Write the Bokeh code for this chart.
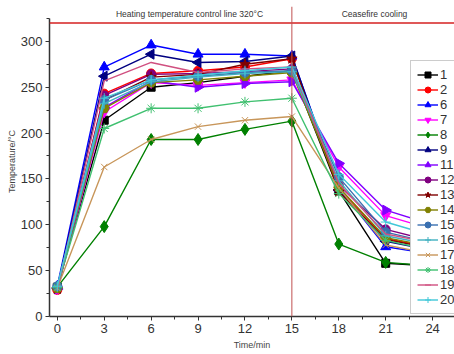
import math
from bokeh.plotting import figure
from bokeh.models import Range1d, FixedTicker, Span, Label, Legend, LegendItem
from bokeh.embed import file_html
from bokeh.resources import INLINE

# ---- data ----
time_min = [0, 3, 6, 9, 12, 15, 18, 21, 24]
series_names = ["1", "2", "6", "7", "8", "9", "11", "12", "13", "14", "15", "16", "17", "18", "19", "20"]
t1 = [32, 214, 250, 255, 262, 268, 137, 58, 55]
t2 = [29, 243, 265, 268, 272, 281, 140, 85, 75]
t6 = [33, 272, 296, 286, 286, 284, 140, 76, 68]
t7 = [30, 223, 255, 252, 255, 258, 163, 110, 95]
t8 = [32, 98, 193, 193, 204, 213, 79, 59, 55]
t9 = [31, 262, 286, 277, 278, 284, 138, 82, 72]
t11 = [30, 228, 257, 250, 254, 256, 167, 116, 100]
t12 = [31, 241, 264, 265, 267, 270, 143, 95, 82]
t13 = [30, 236, 261, 264, 275, 281, 136, 84, 74]
t14 = [31, 227, 255, 258, 262, 266, 141, 86, 76]
t15 = [33, 236, 258, 262, 266, 268, 152, 92, 80]
t16 = [32, 232, 256, 261, 265, 267, 148, 88, 78]
t17 = [31, 163, 193, 207, 214, 218, 140, 78, 68]
t18 = [32, 205, 227, 227, 234, 238, 134, 83, 72]
t19 = [29, 257, 277, 266, 270, 272, 145, 90, 80]
t20 = [33, 238, 258, 263, 268, 272, 155, 103, 88]
series_values = [t1, t2, t6, t7, t8, t9, t11, t12, t13, t14, t15, t16, t17, t18, t19, t20]

control_temp = 320
ceasefire_time = 15
x_ticks = [0, 3, 6, 9, 12, 15, 18, 21, 24]
y_ticks = [0, 50, 100, 150, 200, 250, 300]
y_axis_extent = (0, 325)

# ---- styles ----
colors = ["#000000", "#ff0000", "#0000ff", "#ff00ff", "#008000", "#000080", "#8000ff", "#800080",
          "#800000", "#808000", "#3a70b0", "#40b0c0", "#c8965a", "#40c070", "#d05080", "#40c8d8"]
markers = ["square", "circle", "triangle", "inverted_triangle", "diamond", "triangle", "triangle",
           "circle", "star", "hex", "circle", "cross", "x", "asterisk", "dash", "cross"]
angles = [0, 0, 0, 0, 0, math.pi / 2, -math.pi / 2, 0, 0, 0, 0, 0, 0, 0, 0, 0]
sizes = [8, 9, 10, 10, 12, 10, 10, 9, 11, 10, 9, 10, 9, 10, 1, 10]

p = figure(width=454, height=354, x_range=Range1d(-0.5, 25.4), y_range=Range1d(0, 338),
           output_backend="svg", toolbar_location=None,
           min_border_left=49, min_border_right=0, min_border_top=6, min_border_bottom=38)
p.xgrid.visible = False
p.ygrid.visible = False
p.outline_line_color = None
p.background_fill_color = "white"

p.xaxis.ticker = FixedTicker(ticks=x_ticks, minor_ticks=[t + 1.5 for t in x_ticks])
p.yaxis.ticker = FixedTicker(ticks=y_ticks, minor_ticks=[t + 25 for t in y_ticks])
p.yaxis.bounds = y_axis_extent
for ax in (p.xaxis, p.yaxis):
    ax.axis_line_color = "#333333"
    ax.axis_line_width = 1.5
    ax.major_tick_line_color = "#333333"
    ax.minor_tick_line_color = "#333333"
    ax.major_tick_out = 4
    ax.major_tick_in = 0
    ax.minor_tick_out = 3
    ax.minor_tick_in = 0
    ax.major_label_text_font = "Liberation Sans"
    ax.major_label_text_font_size = "13px"
    ax.major_label_text_color = "#333333"
    ax.major_label_standoff = 3
    ax.axis_label_text_font = "Liberation Sans"
    ax.axis_label_text_font_size = "9px"
    ax.axis_label_text_font_style = "normal"
    ax.axis_label_text_color = "#444444"

p.xaxis.axis_label = "Time/min"
p.xaxis.axis_label_standoff = 4
p.yaxis.axis_label = "Temperature/°C"
p.yaxis.axis_label_standoff = 1

# control lines
p.add_layout(Span(location=control_temp, dimension="width", line_color="#d42020", line_width=1.6))
p.add_layout(Span(location=ceasefire_time, dimension="height", line_color="#c05050", line_width=1))

items = []
for name, vals, c, m, a, s in zip(series_names, series_values, colors, markers, angles, sizes):
    r1 = p.line(time_min, vals, line_color=c, line_width=1.4)
    r2 = p.scatter(time_min, vals, marker=m, size=s, angle=a, fill_color=c, line_color=c)
    items.append(LegendItem(label=name, renderers=[r1, r2]))

legend = Legend(items=items, location=(361, 2), padding=6, spacing=0, margin=0,
                label_height=15, glyph_height=15, glyph_width=21, label_standoff=2,
                label_text_font="Liberation Sans", label_text_font_size="13px",
                label_text_color="#333333", border_line_color="#999999", border_line_width=1,
                background_fill_alpha=1)
p.add_layout(legend)

# annotations (screen units relative to the frame's bottom-left corner)
p.add_layout(Label(x=140, y=303, x_units="screen", y_units="screen", text="Heating temperature control line 320°C",
                   text_font="Liberation Sans", text_font_size="8.5px", text_color="#333333",
                   text_align="center", text_baseline="middle"))
p.add_layout(Label(x=325, y=303, x_units="screen", y_units="screen", text="Ceasefire cooling",
                   text_font="Liberation Sans", text_font_size="8.5px", text_color="#333333",
                   text_align="center", text_baseline="middle"))

open("out.html", "w").write(file_html(p, INLINE))
